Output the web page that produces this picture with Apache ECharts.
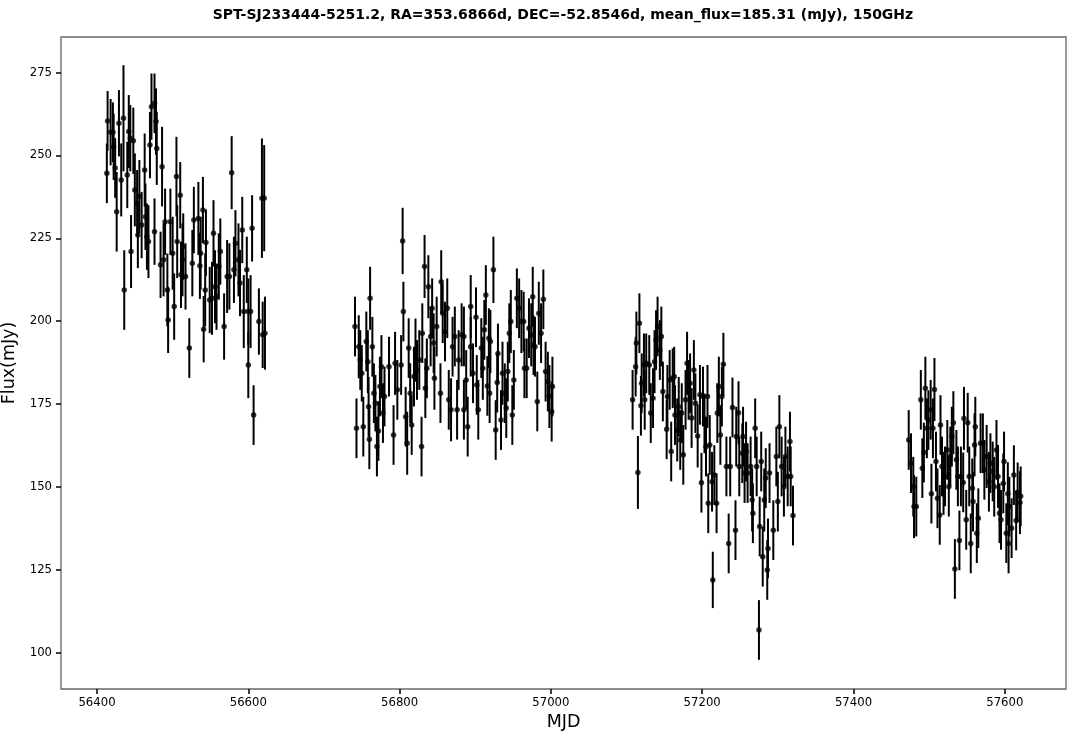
<!DOCTYPE html>
<html>
<head>
<meta charset="utf-8">
<script src="https://cdn.jsdelivr.net/npm/echarts@6/dist/echarts.min.js"></script>
<style>
html,body{margin:0;padding:0;background:#fff;}
#chart{width:1079px;height:739px;}
</style>
</head>
<body>
<div id="chart"></div>
<script>
// [MJD, flux (mJy), 1-sigma error (mJy)]
const season2013 = [
[56413,244.6,9],[56414,260.4,9],[56418,257.0,10],[56421,257.0,9],[56422,252.6,10],[56424,246.2,9],
[56426,233.0,12],[56429,259.7,10],[56432,242.6,11],[56435,261.2,16],[56436,209.4,12],[56440,244.1,10],
[56442,257.2,11],[56444,255.2,10],[56445,221.0,11],[56448,254.4,10],[56450,239.6,11],[56453,235.6,10],
[56454,226.0,10],[56456,237.6,11],[56459,229.0,10],[56463,245.6,11],[56464,231.5,10],[56466,225.5,10],
[56468,224.0,11],[56470,253.1,10],[56472,264.7,10],[56476,265.7,9],[56476,227.0,10],[56478,260.2,10],
[56479,252.1,11],[56484,217.0,10],[56486,246.6,12],[56488,218.5,11],[56490,230.0,10],[56493,209.4,11],
[56494,200.4,10],[56497,230.0,10],[56500,220.5,11],[56502,204.4,10],[56505,243.6,12],[56506,224.0,11],
[56510,238.0,10],[56511,214.0,10],[56513,218.5,11],[56514,222.5,10],[56517,213.5,10],[56522,191.9,9],
[56526,217.5,10],[56528,230.5,10],[56534,231.0,11],[56536,216.7,10],[56537,220.5,11],[56540,233.5,10],
[56541,197.6,10],[56543,209.4,11],[56544,223.7,10],[56549,206.4,10],[56552,206.9,11],[56554,226.5,10],
[56556,210.4,11],[56558,207.4,10],[56561,216.5,10],[56563,221.0,10],[56568,198.4,10],[56572,213.5,11],
[56575,213.5,10],[56578,244.8,11],[56581,215.5,10],[56583,223.5,10],[56587,218.5,11],[56589,211.5,10],
[56592,227.5,10],[56594,202.9,11],[56598,215.5,10],[56600,186.8,10],[56600,202.9,10],[56603,202.9,11],
[56605,228.0,10],[56607,171.7,9],[56614,199.9,10],[56618,237.1,18],[56619,195.9,10],[56621,237.1,16],
[56622,196.4,11]
];
const season2014 = [
[56741,198.4,9],[56743,167.7,9],[56746,192.3,9.5],[56748,188.3,9],[56750,184.3,8.5],[56752,168.2,9],
[56756,193.9,9],[56758,187.8,9.5],[56759,174.2,9],[56760,164.4,9],[56761,206.9,9.5],[56764,192.3,9],
[56766,178.3,9],[56768,175.3,8.5],[56770,162.2,9],[56772,166.9,9],[56774,180.3,9],[56776,186.3,9.5],
[56778,172.3,9],[56780,177.3,9],[56786,186.3,9],[56792,165.7,9],[56794,187.3,9.5],[56797,179.3,9],
[56802,186.8,9],[56804,224.2,10],[56805,202.9,9],[56808,171.2,9],[56810,163.2,9.5],[56812,191.9,9],
[56814,178.3,9],[56816,168.7,9],[56819,183.3,9],[56821,191.3,9.5],[56823,185.3,9],[56826,188.3,9],
[56829,162.2,9],[56830,196.4,9],[56833,216.5,9.5],[56834,179.8,9],[56836,185.8,9],[56838,210.4,9.5],
[56841,195.4,9],[56843,203.9,9],[56845,193.4,9],[56846,182.8,9.5],[56849,198.4,9],[56854,178.3,9],
[56855,211.9,9.5],[56857,202.4,9],[56860,196.9,9],[56863,203.9,9],[56865,176.3,9],[56868,173.3,9.5],
[56870,192.3,9],[56873,195.4,9],[56876,173.3,9],[56878,188.3,9],[56882,195.9,9.5],[56885,195.4,9],
[56885,173.3,9],[56888,182.3,9],[56890,168.2,9],[56894,192.3,9],[56894,204.4,9.5],[56897,184.3,9],
[56901,201.2,9],[56902,180.8,9],[56904,173.3,9],[56908,191.9,9],[56910,185.8,9.5],[56912,197.4,9],
[56914,207.9,9],[56916,180.5,9],[56918,194.9,9],[56919,178.3,9],[56920,193.9,9.5],[56924,215.5,10],
[56927,167.2,9],[56929,181.5,9],[56930,190.3,9],[56934,170.2,9],[56936,184.3,9.5],[56939,178.3,9],
[56941,173.8,9],[56943,184.8,9],[56945,196.4,9],[56947,199.9,9.5],[56949,171.7,9],[56951,182.3,9],
[56955,206.9,9],[56958,203.9,9],[56961,199.9,9.5],[56964,199.9,9],[56965,185.8,9],[56968,185.8,9],
[56971,197.9,9],[56974,195.9,9.5],[56976,207.4,9],[56977,192.8,9],[56979,192.3,9],[56982,175.8,9],
[56984,202.4,9.5],[56987,196.4,9],[56990,206.6,9],[56993,184.8,9],[56996,181.8,9],[56998,177.3,9.5],
[57001,172.7,9],[57002,180.3,9]
];
const season2015 = [
[57108,176.3,9],[57112,186.3,9],[57113,193.4,9.5],[57115,154.4,11],[57117,199.4,9],[57119,174.5,9],
[57120,181.3,9],[57123,186.8,9.5],[57124,176.3,9],[57126,187.3,9],[57130,186.8,9],[57132,172.3,9],
[57135,176.8,9],[57137,187.8,9.5],[57139,194.3,9],[57141,198.4,9],[57144,191.3,9],[57146,195.4,9],
[57148,178.8,9],[57153,167.4,9],[57154,177.3,9.5],[57157,182.3,9],[57159,160.7,9],[57161,182.8,9],
[57163,183.3,9],[57164,171.7,9],[57167,167.2,9.5],[57169,174.2,9],[57171,164.2,9],[57173,172.3,9],
[57175,159.7,9],[57178,176.3,9],[57180,187.3,9.5],[57182,179.3,9],[57184,181.3,9],[57186,170.8,9],
[57189,185.3,9],[57191,175.3,9],[57194,165.4,9.5],[57197,177.8,9],[57199,151.3,9],[57201,177.3,9],
[57203,169.2,9],[57205,162.2,9],[57207,177.3,9.5],[57208,145.1,9],[57210,162.7,9],[57213,151.6,9],
[57214,122.0,8.5],[57216,153.6,9],[57219,145.1,9],[57220,172.3,9],[57222,180.3,9],[57224,165.7,9],
[57226,177.3,9],[57228,187.0,9.5],[57232,156.2,9],[57235,133.0,9],[57237,156.2,9],[57240,174.0,9],
[57244,137.0,9],[57245,165.2,9],[57248,172.4,9.5],[57249,156.2,9],[57253,160.2,9],[57254,165.2,9],
[57256,154.2,9],[57258,160.7,9],[57260,154.2,9],[57264,156.2,9],[57266,146.1,9.5],[57267,142.1,9],
[57270,167.7,9],[57272,156.2,9],[57275,106.9,9],[57276,138.1,9],[57278,157.7,9],[57280,129.0,9],
[57282,146.1,9.5],[57284,152.7,9],[57286,125.0,9],[57287,131.5,9],[57289,154.2,9],[57294,137.0,9],
[57298,159.2,9],[57300,145.6,9],[57302,168.2,9.5],[57305,156.2,9],[57308,150.1,9],[57310,159.2,9],
[57313,153.2,9],[57316,163.7,9],[57317,153.2,9],[57320,141.4,9]
];
const season2016 = [
[57473,164.2,9],[57476,157.2,9],[57479,150.1,9],[57480,144.1,9.5],[57483,144.1,9],[57489,176.3,9],
[57491,155.7,9],[57493,160.4,9],[57495,179.8,9.5],[57497,167.7,9],[57499,170.2,9],[57502,173.3,9],
[57503,148.0,9],[57505,167.7,9],[57507,179.4,9.5],[57509,157.7,9],[57511,146.6,9],[57514,141.6,9],
[57515,168.7,9],[57517,156.2,9],[57519,151.1,9.5],[57521,153.2,9],[57524,161.2,9],[57526,150.1,9],
[57528,159.2,9],[57530,165.2,9],[57532,169.4,9.5],[57534,125.3,9],[57536,158.2,9],[57538,153.2,9],
[57540,133.9,9],[57542,153.2,9],[57545,151.4,9],[57546,170.7,9.5],[57549,140.1,9],[57551,169.4,9],
[57553,153.2,9],[57555,133.0,9],[57557,149.6,9],[57558,145.6,9],[57560,162.7,9.5],[57561,168.2,9],
[57563,136.1,9],[57565,140.6,9],[57568,163.2,9],[57571,163.2,9],[57573,155.2,9],[57576,159.2,9.5],
[57579,151.6,9],[57581,157.2,9],[57584,154.7,9],[57586,150.1,9],[57589,161.2,9],[57591,153.2,9.5],
[57593,142.1,9],[57595,140.1,9],[57598,151.1,9],[57599,157.7,9],[57602,136.1,9],[57604,148.0,9.5],
[57605,133.0,9],[57606,144.1,9],[57609,137.6,9],[57612,153.6,9],[57615,139.9,9],[57617,148.4,9],
[57620,145.3,9.5],[57621,147.2,9]
];
const xTickValues = [56400, 56600, 56800, 57000, 57200, 57400, 57600];
const yTickValues = [100, 125, 150, 175, 200, 225, 250, 275];
const chartTitle = 'SPT-SJ233444-5251.2, RA=353.6866d, DEC=-52.8546d, mean_flux=185.31 (mJy), 150GHz';

const allPoints = season2013.concat(season2014, season2015, season2016);
const FONT = 'DejaVu Sans';

const chart = echarts.init(document.getElementById('chart'), null, {renderer: 'canvas'});
chart.setOption({
  animation: false,
  backgroundColor: '#ffffff',
  title: {
    text: chartTitle,
    left: 558, top: 3, textAlign: 'center',
    textStyle: {fontFamily: FONT, fontWeight: 'bold', fontSize: 14, color: '#000'}
  },
  grid: {left: 61, right: 13, top: 37, bottom: 50, containLabel: false, outerBoundsMode: 'none',
         show: true, borderColor: '#666', borderWidth: 1.3, backgroundColor: 'transparent'},
  xAxis: {
    type: 'value', min: 56352.4, max: 57680.9,
    name: 'MJD', nameLocation: 'middle', nameGap: 24,
    nameTextStyle: {fontFamily: FONT, fontSize: 17.5, color: '#000'},
    axisLine: {show: false},
    splitLine: {show: false},
    axisTick: {show: true, inside: false, length: 5, lineStyle: {color: '#000', width: 1.5}, customValues: xTickValues},
    axisLabel: {fontFamily: FONT, fontSize: 11.7, color: '#000', margin: 8, customValues: xTickValues,
                formatter: v => String(Math.round(v))}
  },
  yAxis: {
    type: 'value', min: 89.1, max: 285.7,
    name: 'Flux(mJy)', nameLocation: 'middle', nameGap: 33, nameRotate: 90,
    nameTextStyle: {fontFamily: FONT, fontSize: 17.5, color: '#000'},
    axisLine: {show: false},
    splitLine: {show: false},
    axisTick: {show: true, inside: false, length: 5, lineStyle: {color: '#000', width: 1.5}, customValues: yTickValues},
    axisLabel: {fontFamily: FONT, fontSize: 11.7, color: '#000', margin: 9, customValues: yTickValues,
                formatter: v => String(Math.round(v))}
  },
  series: [
    {
      type: 'custom',
      data: allPoints,
      encode: {x: 0, y: 1},
      renderItem: function (params, api) {
        const x = api.value(0), y = api.value(1), e = api.value(2);
        const p1 = api.coord([x, y - e]);
        const p2 = api.coord([x, y + e]);
        return {
          type: 'line',
          shape: {x1: p1[0], y1: p1[1], x2: p2[0], y2: p2[1]},
          style: {stroke: '#000', lineWidth: 2}
        };
      },
      silent: true, z: 2
    },
    {
      type: 'scatter',
      data: allPoints.map(p => [p[0], p[1]]),
      symbol: 'circle', symbolSize: 5.5,
      itemStyle: {color: '#000'},
      silent: true, z: 3
    }
  ]
});
</script>
</body>
</html>
